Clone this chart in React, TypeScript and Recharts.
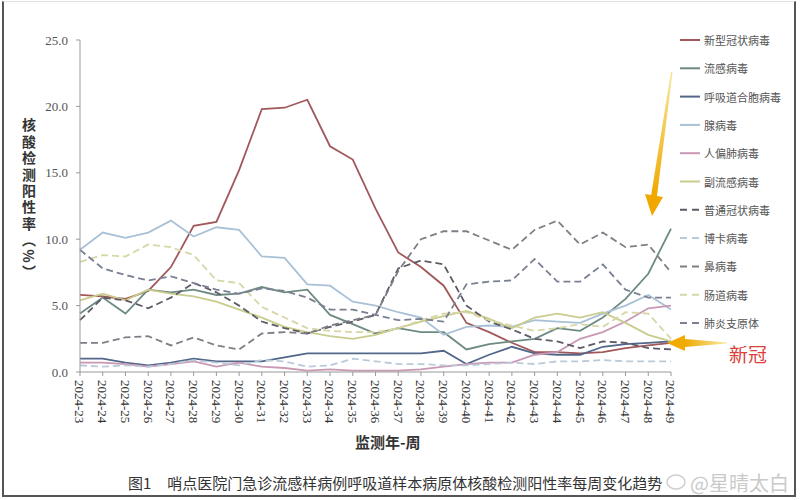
import { LineChart, Line, XAxis, YAxis } from 'recharts'

const weeks = [
  '2024-23', '2024-24', '2024-25', '2024-26', '2024-27', '2024-28', '2024-29', '2024-30', '2024-31',
  '2024-32', '2024-33', '2024-34', '2024-35', '2024-36', '2024-37', '2024-38', '2024-39', '2024-40',
  '2024-41', '2024-42', '2024-43', '2024-44', '2024-45', '2024-46', '2024-47', '2024-48', '2024-49',
]

const yTicks = [0, 5, 10, 15, 20, 25]

const covid = [5.8, 5.7, 5.5, 6.1, 7.9, 11.0, 11.3, 15.2, 19.8, 19.9, 20.5, 17.0, 16.0, 12.3, 9.0, 7.9, 6.5, 3.7, 3.0, 2.2, 1.5, 1.5, 1.4, 1.5, 1.8, 2.0, 2.2]
const flu = [4.4, 5.6, 4.4, 6.2, 6.0, 6.2, 5.8, 5.9, 6.4, 6.0, 6.2, 4.3, 3.6, 2.9, 3.3, 3.0, 3.0, 1.7, 2.1, 2.3, 2.5, 3.3, 3.1, 4.1, 5.5, 7.4, 10.8]
const rsv = [1.0, 1.0, 0.7, 0.5, 0.7, 1.0, 0.8, 0.8, 0.8, 1.1, 1.4, 1.4, 1.4, 1.4, 1.4, 1.4, 1.6, 0.6, 1.3, 1.9, 1.4, 1.3, 1.3, 1.9, 2.1, 2.2, 2.3]
const adeno = [9.2, 10.5, 10.1, 10.5, 11.4, 10.2, 10.9, 10.7, 8.7, 8.6, 6.6, 6.5, 5.3, 5.0, 4.5, 4.1, 2.8, 3.4, 3.5, 3.4, 3.9, 3.8, 3.7, 4.4, 5.0, 5.8, 4.7]
const hmpv = [0.7, 0.7, 0.6, 0.4, 0.6, 0.8, 0.4, 0.7, 0.4, 0.3, 0.1, 0.2, 0.1, 0.1, 0.1, 0.2, 0.4, 0.6, 0.7, 0.7, 1.3, 1.5, 2.5, 3.0, 3.8, 4.8, 5.0]
const para = [5.4, 5.9, 5.4, 6.2, 5.9, 5.7, 5.3, 4.7, 4.1, 3.4, 3.0, 2.7, 2.5, 2.8, 3.3, 3.8, 4.2, 4.6, 4.0, 3.3, 4.1, 4.4, 4.1, 4.5, 3.7, 2.8, 2.3]
const commonCov = [3.9, 5.6, 5.4, 4.8, 5.6, 6.7, 6.0, 5.0, 3.8, 3.3, 2.9, 3.4, 3.8, 4.3, 7.8, 8.4, 8.1, 5.0, 3.8, 3.2, 2.5, 2.3, 1.8, 2.3, 2.2, 1.8, 1.7]
const boca = [0.5, 0.4, 0.5, 0.4, 0.6, 0.9, 0.7, 0.5, 0.9, 0.8, 0.4, 0.5, 1.0, 0.8, 0.6, 0.6, 0.5, 0.5, 0.6, 0.7, 0.6, 0.8, 0.8, 0.9, 0.8, 0.8, 0.8]
const rhino = [2.2, 2.2, 2.6, 2.7, 2.0, 2.6, 2.0, 1.7, 2.9, 3.0, 2.9, 3.5, 3.9, 4.3, 7.6, 10.0, 10.6, 10.6, 9.9, 9.2, 10.7, 11.4, 9.6, 10.5, 9.4, 9.6, 7.5]
const entero = [8.3, 8.8, 8.7, 9.6, 9.4, 8.8, 6.9, 6.7, 4.9, 4.1, 3.3, 3.1, 3.0, 3.0, 3.3, 3.9, 4.4, 4.5, 3.9, 3.5, 3.1, 3.3, 3.6, 3.4, 4.5, 4.4, 2.5]
const myco = [9.2, 7.8, 7.3, 6.9, 7.2, 6.7, 6.2, 5.9, 6.3, 6.1, 5.6, 4.7, 4.7, 4.3, 3.9, 4.0, 3.8, 6.6, 6.8, 6.9, 8.5, 6.8, 6.8, 8.1, 6.2, 5.6, 5.6]

const series = [
  { key: 'covid', name: '新型冠状病毒', values: covid, color: '#a0585a', dash: false },
  { key: 'flu', name: '流感病毒', values: flu, color: '#6d8a82', dash: false },
  { key: 'rsv', name: '呼吸道合胞病毒', values: rsv, color: '#52678a', dash: false },
  { key: 'adeno', name: '腺病毒', values: adeno, color: '#a9c1d6', dash: false },
  { key: 'hmpv', name: '人偏肺病毒', values: hmpv, color: '#c898b4', dash: false },
  { key: 'para', name: '副流感病毒', values: para, color: '#c9cc8c', dash: false },
  { key: 'commonCov', name: '普通冠状病毒', values: commonCov, color: '#5e5a66', dash: true },
  { key: 'boca', name: '博卡病毒', values: boca, color: '#b9cad9', dash: true },
  { key: 'rhino', name: '鼻病毒', values: rhino, color: '#7e7e86', dash: true },
  { key: 'entero', name: '肠道病毒', values: entero, color: '#d6d6a6', dash: true },
  { key: 'myco', name: '肺炎支原体', values: myco, color: '#7a8092', dash: true },
]

const data = weeks.map((week, i) => {
  const row: Record<string, string | number> = { week }
  series.forEach(s => { row[s.key] = s.values[i] })
  return row
})

const serif = '"Liberation Serif", "Times New Roman", serif'
const cjk = '"Noto Sans CJK SC", sans-serif'

function WeekTick({ x, y, payload }: any) {
  return (
    <text
      x={x}
      y={y + 2}
      transform={`rotate(90 ${x} ${y + 2})`}
      dy="0.35em"
      textAnchor="start"
      fontSize={13}
      fontFamily={serif}
      fill="#333"
    >
      {payload.value}
    </text>
  )
}

export default function App() {
  return (
    <div style={{ position: 'absolute', left: 0, top: 0, width: 800, height: 500, background: '#fff', overflow: 'hidden' }}>
      <div
        style={{
          position: 'absolute', left: 2, top: 1, width: 790, height: 493,
          borderLeft: '2px solid #555', borderRight: '2px solid #555', borderBottom: '2px solid #555', borderTop: '1px solid #e2e2e2',
        }}
      />
      <LineChart width={800} height={500} data={data} margin={{ top: 40, right: 129, left: 0, bottom: 0 }}>
        <XAxis
          dataKey="week"
          height={128}
          interval={0}
          tick={<WeekTick />}
          tickSize={4}
          axisLine={{ stroke: '#999' }}
          tickLine={{ stroke: '#999' }}
        />
        <YAxis
          width={80}
          domain={[0, 25]}
          ticks={yTicks}
          tickFormatter={(v: number) => v.toFixed(1)}
          tickSize={4}
          tickMargin={8}
          tick={{ fontSize: 13, fill: '#555', fontFamily: serif }}
          axisLine={{ stroke: '#999' }}
          tickLine={{ stroke: '#999' }}
        />
        {series.map(s => (
          <Line
            key={s.key}
            type="linear"
            dataKey={s.key}
            name={s.name}
            stroke={s.color}
            strokeWidth={1.8}
            strokeDasharray={s.dash ? '7 4' : undefined}
            dot={false}
            activeDot={false}
            isAnimationActive={false}
          />
        ))}
      </LineChart>

      {/* y axis title, vertical */}
      <div
        style={{
          position: 'absolute', left: 19, top: 118, writingMode: 'vertical-rl',
          fontFamily: cjk, fontSize: 14, fontWeight: 700, color: '#333', letterSpacing: 2.4,
        }}
      >
        核酸检测阳性率（%）
      </div>

      <div style={{ position: 'absolute', left: 355, top: 431, fontFamily: cjk, fontSize: 15, fontWeight: 700, color: '#333' }}>
        监测年-周
      </div>

      <div style={{ position: 'absolute', left: 128, top: 472, fontFamily: cjk, fontSize: 15, color: '#333', whiteSpace: 'nowrap' }}>
        图1<span style={{ marginLeft: 16 }}>哨点医院门急诊流感样病例呼吸道样本病原体核酸检测阳性率每周变化趋势</span>
      </div>

      <svg width={800} height={500} style={{ position: 'absolute', left: 0, top: 0, pointerEvents: 'none' }}>
        <defs>
          <linearGradient id="downArrow" x1="0" y1="0" x2="0" y2="1">
            <stop offset="0" stopColor="#f6e79a" />
            <stop offset="1" stopColor="#f0a800" />
          </linearGradient>
          <linearGradient id="leftArrow" x1="1" y1="0" x2="0" y2="0">
            <stop offset="0" stopColor="#f8eaa6" />
            <stop offset="1" stopColor="#f0aa00" />
          </linearGradient>
        </defs>

        {series.map((s, i) => {
          const cy = 40 + i * 28.3
          return (
            <g key={s.key}>
              <line x1={680} x2={700} y1={cy} y2={cy} stroke={s.color} strokeWidth={2} strokeDasharray={s.dash ? '7 5' : undefined} />
              <text x={704} y={cy} dominantBaseline="central" fontSize={11} fontFamily={cjk} fill="#555">{s.name}</text>
            </g>
          )
        })}

        {/* annotation arrows */}
        <polygon points="671,72 672.5,72 657,196 651,196" fill="url(#downArrow)" />
        <polygon points="645,194 663,197 652,216" fill="#f0a800" />
        <polygon points="727,342.5 727,343.5 685,347 685,339" fill="url(#leftArrow)" />
        <polygon points="685,335 685,351 667,343" fill="#f0aa00" />
        <text x={729} y={353} dominantBaseline="central" fontSize={19} fontFamily={cjk} fill="#d9413a">新冠</text>

        {/* watermark */}
        <ellipse cx={676} cy={482} rx={9} ry={7} fill="none" stroke="#cfcfcf" strokeWidth={1.5} />
        <text x={690} y={482} dominantBaseline="central" fontSize={20} fontFamily={cjk} fill="#cacaca">@星晴太白</text>
      </svg>
    </div>
  )
}
